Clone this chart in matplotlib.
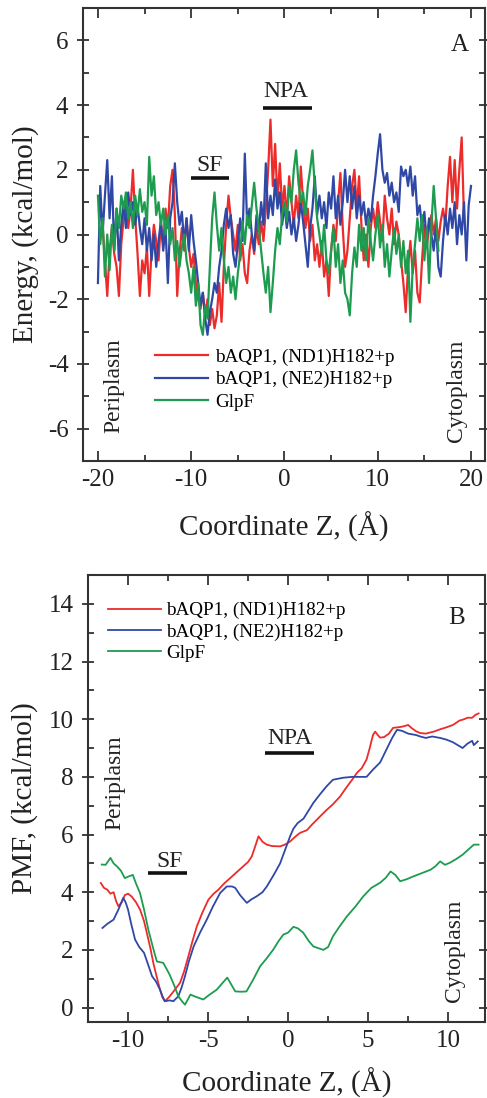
import numpy as np
import matplotlib
matplotlib.use("Agg")
import matplotlib.pyplot as plt
from matplotlib.ticker import MultipleLocator

plt.rcParams['font.family'] = ['Liberation Serif', 'DejaVu Serif']
plt.rcParams['axes.unicode_minus'] = False

# ---------------- Panel A data (energy profiles, step 0.25 A) ----------------
red_a_start = -19.5
red_a = [0.3, -0.8, -1.9, -0.5, 0.2, -0.6, -1.0, -1.9, -0.3, 0.5, 1.0, 0.2,
         0.8, 2.0, 0.5, -0.6, -1.9, -0.8, -1.2, -0.4, -1.9, -0.5, 0.3, -0.2,
         -0.8, 0.4, -0.3, 0.8, 0.2, 1.5, 2.0, 0.6, -1.9, -0.6, 0.2, -0.5,
         0.5, -0.4, -1.0, -0.6, -1.5, -2.0, -2.3, -1.8, -2.5, -2.0, -2.8, -2.3,
         -2.9, -2.5, -1.5, -2.7, -1.0, 0.3, 1.2, 0.5, 0.0, -0.5, 0.3, -0.8,
         -0.3, -1.2, -1.5, -0.5, 0.0, -0.6, 0.2, -0.3, 0.4, -0.2, 0.8, 2.0,
         3.55, 1.5, 2.8, 1.0, 2.2, 0.8, 1.5, 0.5, 1.8, 1.0, 0.3, 1.2,
         0.5, 2.1, 1.0, 0.2, 0.8, -0.2, 0.3, -0.8, -0.3, -1.0, -0.2, -1.3,
         -0.8, -1.9, -0.5, 0.3, -0.2, 1.0, 1.9, 0.2, -1.0, -0.5, 0.5, 1.5,
         2.0, 0.8, 1.8, 0.3, -0.8, 0.0, -1.0, 0.2, 0.8, 0.2, 1.0, 0.4,
         -0.2, 1.2, 0.5, 0.0, 0.8, -0.3, 0.4, 0.0, -0.8, -1.5, -2.4, -1.0,
         -0.2, -1.2, -0.5, -1.8, -2.1, -0.8, 0.3, -0.4, 0.2, 0.6, 0.0, 0.5,
         -0.2, 0.4, 0.8, 0.3, 1.5, 2.4, 1.0, 2.3, 0.8, 2.0, 3.0, 0.5]

blue_a_start = -20.0
blue_a = [-1.5, 1.5, 0.0, 1.2, 2.3, 0.5, 1.8, -0.5, 0.8, -0.8, 0.3, 1.0,
          0.2, 1.3, 0.6, 1.0, 0.3, 0.9, 0.2, -0.3, 0.5, -0.5, 0.2, -0.8,
          0.0, -1.0, -0.2, 0.4, -0.5, 0.2, -1.5, 0.5, 1.0, 2.2, 1.0, 0.3,
          0.7, -0.3, 0.5, -0.5, 0.6, -0.2, -0.8, -1.5, -2.2, -1.8, -2.6, -3.1,
          -2.4, -2.0, -1.5, -1.8, -1.0, -0.5, 0.3, 0.8, 0.2, 0.6, -0.6, -1.0,
          -0.3, 0.5, -0.2, 2.5, 0.3, 0.8, 0.0, -0.5, 0.6, 0.1, 1.0, 0.3,
          2.2, 0.5, 1.2, 0.6, 1.7, 0.8, 1.3, 0.3, 0.9, 0.2, 0.7, 0.0,
          0.5, -0.2, 0.3, 1.0, 0.4, -0.3, -1.0, 0.2, 0.8, 1.8, 0.6, 1.2,
          0.5, 1.0, 0.2, 1.3, 0.8, 1.8, 0.5, 1.2, 0.3, 1.0, 2.0, 1.0,
          1.8, 0.8, 1.5, 0.5, 1.2, 0.6, 1.0, 0.3, 0.8, 0.4, 1.2, 1.8,
          2.5, 3.1, 2.0, 1.6, 1.9, 1.2, 1.6, 1.0, 1.3, 0.7, 2.1, 1.8,
          2.0, 1.5, 2.1, 1.2, 1.8, 0.6, 0.9, 0.2, 0.7, -0.2, 0.5, 0.0,
          -0.5, 0.3, -1.0, -1.3, -0.2, 0.6, 0.0, 0.8, 0.2, 1.0, -0.3, 0.6,
          0.0, 1.0, -0.8, 0.9, 1.5]

green_a_start = -20.0
green_a = [1.2, -0.3, 0.5, -1.3, 0.0, -1.1, 0.3, -0.5, 0.8, 0.2, 1.2, 0.8,
           1.3, 0.5, 1.0, 0.2, 1.2, 0.6, 1.4, 0.7, 1.0, 0.3, 2.4, 1.2,
           1.8, 0.6, 1.0, 0.3, 0.8, 0.0, 0.6, -0.3, 0.2, -0.8, -0.2, -1.0,
           -0.4, 0.0, -0.8, -1.2, -1.8, -1.0, -2.2, -1.5, -2.8, -3.1, -2.2, -2.6,
           -1.0, 0.5, 1.3, 0.3, -0.5, 0.2, -0.8, -1.5, -1.0, -1.8, -1.3, -2.0,
           -1.2, -0.6, 0.4, -0.3, 0.6, 0.2, 0.9, 1.6, 0.8, 0.2, -0.5, -1.2,
           -1.8, -1.0, -2.4, -1.5, -0.5, 0.2, -0.3, 0.6, 1.0, 0.4, 1.5, 1.0,
           2.0, 2.6, 1.6, 1.0, 1.3, 0.6, 1.5, 2.0, 2.6, 1.5, 0.5, 0.0,
           -0.6, 0.3, -0.8, -1.2, -0.5, 0.2, -1.0, -0.3, -1.5, -0.8, -1.8, -2.0,
           -2.5, -1.2, -0.4, -1.0, 0.3, -0.5, 0.2, -0.8, 0.5, -0.2, -0.8, 0.0,
           0.6, -0.4, 0.3, -1.0, -0.3, -1.3, -0.5, 0.2, -0.6, 0.0, -1.0, -0.2,
           -1.2, -0.5, -2.7, -1.0, -0.3, 0.5, -0.2, 0.6, -0.8, 0.2, -1.5, 0.3,
           1.5, 0.5, -0.5]
step_a = 0.25

# ---------------- Panel B data (PMF) ----------------
red_b_x = [-11.7, -11.5, -11.3, -11.1, -10.9, -10.75, -10.6, -10.4, -10.2, -10.0, -9.77, -9.5,
           -9.25, -9.0, -8.83, -8.6, -8.42, -8.2, -8.0, -7.85, -7.7, -7.55, -7.4, -7.1,
           -6.75, -6.5, -6.23, -5.95, -5.7, -5.35, -4.98, -4.65, -4.35, -4.0, -3.6, -3.2,
           -2.8, -2.5, -2.27, -2.05, -1.85, -1.6, -1.33, -1.0, -0.5, -0.2, 0.125, 0.5,
           0.75, 1.17, 1.5, 2.0, 2.4, 2.8, 3.25, 3.6, 4.0, 4.3, 4.6, 4.9,
           5.1, 5.3, 5.44, 5.6, 5.75, 6.0, 6.3, 6.56, 6.9, 7.2, 7.5, 7.7,
           8.0, 8.25, 8.6, 9.1, 9.5, 9.9, 10.3, 10.7, 11.0, 11.2, 11.5, 11.7, 11.9]
red_b_y = [4.32, 4.15, 4.09, 3.95, 4.0, 3.7, 3.51, 3.65, 3.9, 3.95, 3.85, 3.65,
           3.4, 3.0, 2.6, 2.05, 1.55, 1.05, 0.62, 0.35, 0.22, 0.3, 0.39, 0.6,
           0.86, 1.25, 1.78, 2.35, 2.82, 3.3, 3.74, 3.95, 4.09, 4.3, 4.5, 4.7,
           4.9, 5.05, 5.24, 5.6, 5.94, 5.75, 5.65, 5.6, 5.59, 5.65, 5.76, 5.95,
           6.06, 6.15, 6.35, 6.63, 6.85, 7.05, 7.32, 7.6, 7.9, 8.14, 8.3, 8.6,
           9.0, 9.45, 9.57, 9.45, 9.36, 9.38, 9.5, 9.7, 9.72, 9.75, 9.8, 9.7,
           9.58, 9.52, 9.5, 9.57, 9.65, 9.72, 9.8, 9.95, 10.0, 10.05, 10.05, 10.15, 10.2]

blue_b_x = [-11.6, -11.3, -10.9, -10.6, -10.3, -10.15, -10.0, -9.8, -9.56, -9.3, -9.0, -8.75,
            -8.5, -8.25, -8.0, -7.85, -7.7, -7.4, -7.17, -6.86, -6.65, -6.44, -6.2, -5.9,
            -5.5, -5.08, -4.7, -4.25, -3.83, -3.5, -3.3, -3.0, -2.58, -2.3, -1.96, -1.6,
            -1.33, -0.9, -0.5, -0.2, 0.125, 0.33, 0.6, 0.96, 1.3, 1.58, 2.0, 2.4,
            2.8, 3.44, 4.0, 4.5, 4.9, 5.3, 5.75, 6.1, 6.5, 6.8, 7.1, 7.5,
            8.0, 8.25, 8.6, 9.0, 9.5, 9.9, 10.3, 10.6, 10.9, 11.2, 11.5, 11.6, 11.85]
blue_b_y = [2.76, 2.9, 3.05, 3.4, 3.8, 3.65, 3.4, 2.9, 2.36, 2.1, 1.9, 1.5,
            1.09, 0.9, 0.62, 0.4, 0.22, 0.25, 0.22, 0.39, 0.7, 1.09, 1.6, 2.12,
            2.6, 3.05, 3.5, 3.97, 4.2, 4.2, 4.15, 3.9, 3.63, 3.75, 3.86, 4.0,
            4.2, 4.6, 5.0, 5.45, 5.94, 6.2, 6.4, 6.55, 6.85, 7.1, 7.4, 7.67,
            7.9, 7.97, 8.0, 8.0, 8.0, 8.25, 8.5, 8.9, 9.35, 9.63, 9.6, 9.5,
            9.45, 9.4, 9.35, 9.4, 9.35, 9.29, 9.2, 9.1, 9.0, 9.15, 9.25, 9.1, 9.23]

green_b_x = [-11.64, -11.4, -11.1, -10.9, -10.7, -10.45, -10.2, -9.95, -9.7, -9.5, -9.25, -9.0,
             -8.73, -8.45, -8.2, -7.8, -7.6, -7.4, -7.1, -6.86, -6.6, -6.44, -6.1, -5.8,
             -5.3, -4.9, -4.46, -4.1, -3.8, -3.55, -3.3, -2.9, -2.6, -2.2, -1.75, -1.35,
             -0.94, -0.6, -0.3, 0.0, 0.33, 0.6, 0.94, 1.3, 1.58, 2.2, 2.5, 2.8,
             3.2, 3.67, 4.2, 4.7, 5.2, 5.75, 6.1, 6.4, 6.7, 7.0, 7.4, 7.83,
             8.3, 8.9, 9.2, 9.5, 9.8, 10.1, 10.5, 10.9, 11.2, 11.6, 11.9]
green_b_y = [4.96, 4.95, 5.19, 5.0, 4.9, 4.75, 4.49, 4.55, 4.6, 4.3, 3.97, 3.4,
             2.7, 2.1, 1.6, 1.55, 1.35, 1.14, 0.75, 0.39, 0.2, 0.1, 0.45, 0.38,
             0.28, 0.45, 0.62, 0.85, 1.04, 0.8, 0.56, 0.55, 0.56, 0.95, 1.43, 1.7,
             2.0, 2.3, 2.53, 2.6, 2.8, 2.75, 2.6, 2.3, 2.12, 2.0, 2.1, 2.47,
             2.8, 3.16, 3.5, 3.86, 4.15, 4.33, 4.5, 4.72, 4.6, 4.38, 4.45, 4.55,
             4.65, 4.78, 4.9, 5.07, 4.95, 5.02, 5.15, 5.3, 5.45, 5.65, 5.65]

labels = ["bAQP1, (ND1)H182+p", "bAQP1, (NE2)H182+p", "GlpF"]
colors = ["#ec2b2b", "#2f48a6", "#1d9c4f"]

# ---------------- Figure ----------------
W, H = 487, 1098
fig = plt.figure(figsize=(W / 100, H / 100), dpi=100)

def px_axes(l, t, r, b):
    return fig.add_axes([l / W, 1 - b / H, (r - l) / W, (b - t) / H])

axA = px_axes(83, 8, 485, 461)
axB = px_axes(88, 575, 485, 1022)

def style(ax):
    for s in ax.spines.values():
        s.set_linewidth(1.5)
        s.set_color("#333333")
    ax.tick_params(which="both", top=True, right=True, direction="in",
                   width=1.3, colors="#333333", labelsize=18, labelcolor="#222222")
    ax.tick_params(which="major", length=7, pad=6)
    ax.tick_params(which="minor", length=4)
    ax.tick_params(axis="y", which="major", left=True, direction="inout", length=9)

def place_labels(ax, xy_x, xy_y):
    ax.xaxis.set_label_coords(*xy_x)
    ax.yaxis.set_label_coords(*xy_y)
    ax.xaxis.label.set_va("center")
    ax.yaxis.label.set_va("center")
    ax.yaxis.label.set_ha("center")

# Panel A
xa_r = red_a_start + step_a * np.arange(len(red_a))
xa_b = blue_a_start + step_a * np.arange(len(blue_a))
xa_g = green_a_start + step_a * np.arange(len(green_a))
axA.plot(xa_r, red_a, color=colors[0], lw=1.6, label=labels[0])
axA.plot(xa_b, blue_a, color=colors[1], lw=1.6, label=labels[1])
axA.plot(xa_g, green_a, color=colors[2], lw=1.6, label=labels[2])
axA.set_xlim(-21.6, 21.5)
axA.set_ylim(-7, 7)
axA.xaxis.set_major_locator(MultipleLocator(10))
axA.xaxis.set_minor_locator(MultipleLocator(5))
axA.yaxis.set_major_locator(MultipleLocator(2))
axA.yaxis.set_minor_locator(MultipleLocator(1))
style(axA)
axA.set_xlabel("Coordinate Z, (Å)", fontsize=21, color="#222222")
axA.set_ylabel("Energy, (kcal/mol)", fontsize=21, color="#222222")
place_labels(axA, (0.5, -0.146), (-0.142, 0.5))
axA.legend(loc="upper left", bbox_to_anchor=(0.18, 0.248), frameon=False,
           fontsize=13.8, handlelength=2.75, handletextpad=0.35,
           labelspacing=0.25, borderpad=0, borderaxespad=0)
axA.text(0.077, 0.166, "Periplasm", rotation=90, transform=axA.transAxes,
         ha="center", va="center", fontsize=17, color="#222222")
axA.text(0.928, 0.155, "Cytoplasm", rotation=90, transform=axA.transAxes,
         ha="center", va="center", fontsize=17, color="#222222")
axA.text(0.938, 0.918, "A", transform=axA.transAxes, ha="center", va="center",
         fontsize=18, color="#222222")
axA.text(0.16, 4.41, "NPA", ha="center", va="center", fontsize=17, color="#222222")
axA.plot([-2.3, 2.9], [3.92, 3.92], color="#111111", lw=2.6, solid_capstyle="butt")
axA.text(-8.0, 2.13, "SF", ha="center", va="center", fontsize=17, color="#222222")
axA.plot([-10.0, -5.95], [1.76, 1.76], color="#111111", lw=2.6, solid_capstyle="butt")

# Panel B
axB.plot(red_b_x, red_b_y, color=colors[0], lw=1.3, label=labels[0])
axB.plot(blue_b_x, blue_b_y, color=colors[1], lw=1.3, label=labels[1])
axB.plot(green_b_x, green_b_y, color=colors[2], lw=1.3, label=labels[2])
axB.set_xlim(-12.5, 12.3)
axB.set_ylim(-0.5, 15)
axB.xaxis.set_major_locator(MultipleLocator(5))
axB.xaxis.set_minor_locator(MultipleLocator(2.5))
axB.yaxis.set_major_locator(MultipleLocator(2))
axB.yaxis.set_minor_locator(MultipleLocator(1))
style(axB)
axB.set_xlabel("Coordinate Z, (Å)", fontsize=21, color="#222222")
axB.set_ylabel("PMF, (kcal/mol)", fontsize=21, color="#222222")
place_labels(axB, (0.5, -0.136), (-0.159, 0.5))
axB.legend(loc="upper left", bbox_to_anchor=(0.05, 0.94), frameon=False,
           fontsize=13.8, handlelength=2.75, handletextpad=0.3,
           labelspacing=0.2, borderpad=0, borderaxespad=0)
axB.text(0.068, 0.535, "Periplasm", rotation=90, transform=axB.transAxes,
         ha="center", va="center", fontsize=17, color="#222222")
axB.text(0.922, 0.159, "Cytoplasm", rotation=90, transform=axB.transAxes,
         ha="center", va="center", fontsize=17, color="#222222")
axB.text(0.929, 0.904, "B", transform=axB.transAxes, ha="center", va="center",
         fontsize=18, color="#222222")
axB.text(0.125, 9.32, "NPA", ha="center", va="center", fontsize=17, color="#222222")
axB.plot([-1.44, 1.63], [8.84, 8.84], color="#111111", lw=2.6, solid_capstyle="butt")
axB.text(-7.4, 5.06, "SF", ha="center", va="center", fontsize=17, color="#222222")
axB.plot([-8.75, -6.3], [4.68, 4.68], color="#111111", lw=2.6, solid_capstyle="butt")

fig.savefig("out.png", dpi=100)
